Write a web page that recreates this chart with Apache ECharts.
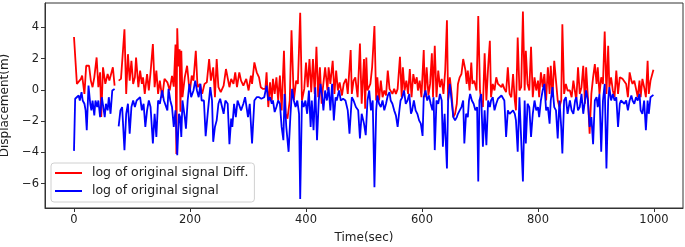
<!DOCTYPE html>
<html>
<head>
<meta charset="utf-8">
<script src="https://cdn.jsdelivr.net/npm/echarts@6/dist/echarts.min.js"></script>
<style>
  html, body { margin: 0; padding: 0; background: #fff; }
  #chart { width: 685px; height: 247px; }
</style>
</head>
<body>
<div id="chart"></div>
<script>
// tick values shown on the axes
const xTicks = [0, 200, 400, 600, 800, 1000]
const yTicks = [-6, -4, -2, 0, 2, 4]

const seriesNames = ['log of original signal Diff.', 'log of original signal']

// [time, value], '-' = missing samples
const diffData = [
  [0, 3.38], [5, 0.38], [8, 0.48], [12, 0.7], [14, 0.91], [18, -0.26], [21, 1.54], [23, 1.44],
  [26, 1.54], [29, 0.59], [32, 0.17], [35, 0.8], [39, 2.07], [42, 0.17], [45, 1.12], [47, -1.74],
  [50, 1.44], [54, 0.38], [58, 1.01], [61, 0.59], [63, 0.48], [67, 1.44], [70, 0.27], [73, '-'],
  [77, 0.59], [81, 0.7], [83, 0.8], [87, 3.87], [90, -0.26], [93, 2.28], [96, 0.59], [99, 1.86],
  [102, 0.38], [105, 0.8], [107, 2.07], [111, 0.17], [114, 1.23], [117, 0.38], [119, 0.8], [122, -0.26],
  [126, 1.01], [129, -0.04], [132, 1.12], [136, 2.92], [139, 0.17], [142, 1.23], [145, -0.26], [148, 0.59],
  [152, -0.5], [156, 0.7], [161, 0.48], [165, -0.04], [169, 0.9], [172, 0.2], [175, 2.9], [176.5, -4.1],
  [178, 3.93], [180, 1.5], [182, 2.6], [183.5, -1.4], [185, 2.5], [187, -0.47], [191, 0.8], [195, 1.54],
  [198, 0.38], [200, -0.04], [203, 0.91], [206, 0.59], [210, 2.5], [213, 0.17], [217, 0.38], [221, -0.26],
  [225, 0.38], [229, 0.48], [233, 1.97], [236, 0.59], [240, 1.44], [243, -0.47], [246, 1.97], [249, 0.17],
  [253, -0.15], [258, 0.27], [262, 1.33], [265, 1.23], [268, 0.17], [271, 0.7], [275, 0.38], [278, 1.12],
  [281, 0.17], [285, 1.12], [288, 0.59], [292, 0.27], [297, 0.7], [301, -0.04], [305, 0.91], [307, 0.38],
  [311, 1.75], [315, 1.12], [319, 0.8], [322, 0.17], [326, 0.06], [330, 0.06], [332, 1.12], [335, -1.1],
  [338, 0.48], [341, -0.68], [343, 0.7], [346, -0.26], [349, 0.8], [352, -0.68], [355, 0.91], [358, -1.31],
  [362, 2.5], [365, -1.53], [368, -1.84], [372, -0.68], [375, 3.81], [379, -0.68], [383, 0.59], [386, 0.38],
  [390, 4.93], [393, -0.68], [397, 0.06], [400, 1.75], [403, 0.17], [406, 1.97], [409, -0.15], [412, 1.97],
  [415, -0.26], [418, 2.75], [421, -0.47], [424, 1.44], [427, -0.89], [429, 0.06], [433, 1.44], [437, -0.04],
  [439, 1.44], [442, 0.38], [446, 1.86], [449, -0.26], [452, 1.23], [455, -0.04], [458, 0.48], [462, -0.36],
  [465, 0.38], [469, 0.7], [472, -0.26], [477, 2.54], [479, -0.26], [482, 0.59], [485, 0.8], [489, -0.47],
  [493, 2.96], [496, -0.89], [500, 1.97], [502, -1.2], [504, 2.07], [506, -0.04], [511, 0.38], [514, 1.44],
  [518, 4.08], [521, -0.68], [523, 0.8], [526, -0.68], [529, 0.59], [532, -0.47], [535, -0.04], [538, -0.36],
  [541, 1.23], [544, 0.06], [546, 0.17], [549, -0.26], [552, 0.06], [555, -0.26], [558, 0.06], [562, 2.11],
  [565, -0.47], [567, 1.44], [570, -0.04], [573, 0.59], [576, -0.26], [579, 1.33], [582, -0.47], [585, 1.01],
  [588, 0.38], [591, 0.8], [593, -0.04], [596, 0.59], [599, -0.47], [603, 2.54], [605, -0.47], [608, 1.44],
  [611, -0.36], [614, 0.38], [617, 2.33], [619, -0.47], [622, 2.81], [625, -0.47], [628, 1.23], [631, 0.17],
  [634, 0.7], [637, -0.26], [640, 1.23], [643, 4.44], [645, -0.68], [648, 0.8], [651, -0.26], [654, -1.74],
  [657, -1.53], [660, -0.89], [662, 0.38], [665, 0.8], [668, 1.01], [671, 1.97], [675, 1.23], [677, 0.38],
  [679, 1.23], [682, -0.04], [685, 1.75], [687, 0.38], [690, 0.59], [694, -0.04], [697, 4.72], [700, -0.04],
  [702, -0.68], [705, -1.1], [708, 2.33], [711, -0.68], [714, 1.44], [717, 3.13], [719, -0.47], [722, 0.38],
  [725, -0.04], [728, 0.8], [731, 0.38], [734, 0.27], [737, 0.17], [739, 0.38], [742, 0.06], [745, -0.15],
  [748, 1.44], [751, -0.26], [754, -0.47], [757, 1.01], [760, -0.68], [762, -1.31], [765, 3.34], [768, -0.04],
  [771, 0.17], [774, 5.0], [777, -0.04], [779, 2.5], [782, 0.38], [785, -0.04], [788, 2.75], [791, -0.47],
  [794, 0.8], [797, -0.04], [800, 0.59], [802, -0.47], [805, 1.12], [808, 0.17], [811, 1.01], [814, -0.68],
  [817, 1.44], [820, -0.26], [822, 1.54], [825, -0.47], [828, 1.86], [831, 0.59], [834, -0.68], [837, -1.1],
  [840, -0.68], [842, 4.19], [845, -0.26], [848, 0.38], [851, -0.04], [855, -0.04], [858, -0.47], [861, 0.59],
  [864, 0.7], [866, -0.68], [869, 1.44], [872, -0.26], [875, 0.17], [878, 1.54], [881, -0.89], [883, 1.44],
  [886, -0.47], [889, -2.8], [892, -0.26], [895, 0.8], [898, 1.65], [901, 0.38], [903, 1.44], [906, -0.26],
  [909, 0.8], [912, 0.38], [915, 3.72], [918, -0.26], [921, 2.81], [923, 0.17], [926, 0.8], [929, -0.04],
  [932, -0.47], [935, 1.23], [938, -0.26], [941, 0.8], [943, 0.7], [946, 0.7], [949, 0.59], [952, 0.38],
  [955, -0.47], [958, 1.12], [961, 0.59], [963, 0.38], [966, 0.59], [969, 0.06], [972, -0.47], [975, 0.59],
  [977, -0.47], [980, 0.7], [983, 0.17], [986, -0.47], [989, 1.86], [991, -0.26], [994, 0.59], [999, 1.29]
]

const signalData = [
  [0, -3.9], [2, -0.57], [5, -0.47], [8, -0.36], [10, -0.68], [13, -0.15], [15, -0.68], [18, -0.89],
  [20, -1.31], [22, -2.58], [25, 0.27], [28, -0.89], [30, -1.31], [32, -0.68], [35, -1.63], [37, -0.68],
  [40, -1.1], [42, -0.68], [45, -1.74], [48, -0.47], [50, -0.36], [53, -1.74], [55, -0.89], [58, -1.31],
  [60, -0.47], [63, -1.53], [66, -0.04], [70, 0.06], [73, '-'], [77, -2.33], [80, -1.31], [83, -1.1],
  [87, -3.85], [90, -1.53], [93, -0.89], [96, -2.8], [99, -1.1], [102, -0.68], [105, -1.1], [108, -0.68],
  [111, -0.68], [114, -0.47], [117, -1.31], [120, -0.89], [123, -2.37], [126, -1.31], [129, -0.68], [132, -1.1],
  [136, -3.43], [139, -1.53], [142, -3.01], [145, -0.68], [148, -0.89], [152, -0.04], [155, -0.68], [158, -0.68],
  [161, -1.31], [163, 0.06], [166, -0.68], [169, -1.1], [172, -2.37], [175, -1.31], [178, -4.17], [181, -1.53],
  [183, -1.74], [185, -3.01], [187, -0.68], [191, -1.74], [193, -2.48], [196, -0.68], [199, 0.38], [202, -0.47],
  [206, -0.04], [209, 0.59], [212, -0.04], [215, -0.47], [218, 0.38], [220, -0.68], [224, -0.68], [227, -2.96],
  [231, -1.31], [235, 0.17], [238, -0.68], [240, -3.32], [243, -2.37], [246, -1.95], [249, -0.89], [252, -0.57],
  [255, -0.68], [258, -1.53], [261, -0.68], [265, -0.89], [268, -3.47], [271, -1.84], [273, -2.37], [276, -0.89],
  [279, -1.74], [282, -0.68], [285, -0.68], [288, -1.31], [292, -0.89], [295, -0.47], [300, -1.74], [303, -0.89],
  [307, -3.43], [311, -0.68], [315, -0.47], [319, -0.47], [323, -0.57], [328, -0.47], [332, 0.27], [335, -0.68],
  [338, -0.47], [341, -0.89], [343, -0.68], [346, -1.42], [349, -1.1], [352, -0.68], [355, -0.89], [358, -2.37],
  [361, -3.22], [363, -0.26], [366, -2.37], [370, -3.96], [373, -1.74], [376, 0.06], [379, -0.68], [382, -1.1],
  [385, -0.68], [388, -1.53], [390, -6.97], [393, -0.68], [396, -1.1], [399, -0.68], [402, -1.53], [405, -0.04],
  [408, -2.37], [410, -0.68], [413, -2.58], [416, 0.17], [419, -3.22], [422, -0.68], [425, 0.38], [428, -0.47],
  [430, -1.31], [433, -0.04], [436, -0.68], [439, 0.17], [442, -1.31], [445, 0.38], [448, -1.95], [451, -0.47],
  [453, -0.68], [457, -0.04], [460, -0.68], [464, -0.57], [468, -0.68], [472, -1.31], [475, -2.8], [479, -0.47],
  [482, -0.68], [486, -1.1], [490, -1.31], [493, -3.11], [496, -1.53], [500, -2.16], [503, -2.9], [506, -0.68],
  [509, -0.04], [512, -1.31], [515, -0.68], [518, -6.22], [521, -1.31], [523, -0.36], [526, -0.89], [529, -1.1],
  [532, -0.68], [535, -1.31], [538, -0.89], [541, -0.36], [544, -0.15], [546, -0.68], [549, -0.89], [552, -1.31],
  [555, -1.63], [558, -2.37], [561, -1.31], [563, -0.68], [566, -0.47], [569, -0.04], [572, -0.89], [575, -0.68],
  [578, -0.26], [581, -1.53], [583, -1.31], [586, -0.68], [589, -1.31], [592, -1.53], [595, -1.95], [598, -2.16],
  [601, -2.94], [603, -0.47], [606, -0.04], [609, -0.68], [612, -0.36], [615, -0.89], [618, -1.31], [620, -0.47],
  [622, -3.85], [625, -0.68], [628, -0.89], [631, -0.26], [634, -0.68], [636, -3.64], [639, -1.53], [643, -5.02],
  [645, -0.68], [648, 0.38], [651, -0.68], [654, -1.74], [657, -1.95], [660, -1.74], [662, -1.53], [665, -1.31],
  [668, -1.1], [671, -0.68], [673, -3.43], [676, -1.53], [679, -1.74], [681, -0.68], [683, -0.26], [686, -0.68],
  [689, -0.89], [692, -1.31], [695, -1.1], [697, -5.86], [699, -0.68], [702, -0.26], [705, -3.64], [708, -1.31],
  [711, -3.54], [714, -0.68], [717, -1.1], [719, -0.68], [722, -0.47], [725, -1.31], [728, -0.89], [731, -0.57],
  [734, -0.47], [737, -0.36], [739, -0.36], [742, -0.68], [745, -3.01], [748, -1.31], [751, -1.53], [754, -1.63],
  [757, -1.31], [760, -1.53], [762, -1.95], [765, -3.96], [768, -0.47], [771, -0.47], [774, -5.86], [777, -0.68],
  [779, -3.43], [782, -0.89], [785, -1.1], [788, -3.01], [791, -1.53], [794, -0.68], [797, -1.31], [800, -1.1],
  [802, -1.74], [805, -0.68], [808, -0.04], [811, 0.38], [814, -1.31], [817, -1.1], [820, -2.16], [822, -0.68],
  [825, 0.17], [828, -1.1], [831, -1.31], [834, -3.11], [837, -0.68], [840, -2.37], [842, -4.07], [845, -0.68],
  [848, -0.47], [851, -1.53], [855, -0.68], [858, -1.31], [861, -1.53], [864, -0.68], [866, -0.47], [869, -1.31],
  [872, -1.1], [875, -0.26], [878, -1.53], [881, -0.68], [883, -0.04], [886, -0.68], [889, -2.37], [892, -1.74],
  [895, -3.47], [898, -0.68], [901, -0.47], [903, -1.1], [906, -0.26], [909, -3.96], [912, -0.68], [915, 0.38],
  [918, -5.02], [921, -0.68], [923, 0.17], [926, -0.68], [929, -0.26], [932, -0.68], [935, -0.47], [938, -2.37],
  [941, -0.89], [943, -0.68], [946, -0.57], [949, -0.89], [952, -0.68], [955, -1.31], [958, -0.68], [961, -0.36],
  [963, -0.68], [966, -0.89], [969, -0.47], [972, -0.68], [975, -0.26], [977, -1.31], [980, -1.53], [983, -0.68],
  [986, -2.58], [989, -0.68], [991, -1.53], [994, -0.47], [999, -0.32]
]

const chart = echarts.init(document.getElementById('chart'), null, { renderer: 'canvas' })

const fontFamily = 'DejaVu Sans'
const axisColor = '#333'
const minus = v => String(v).replace('-', '\u2212')

const option = {
  animation: false,
  textStyle: { fontFamily: fontFamily },
  grid: {
    left: 45,
    right: 2,
    top: 3,
    bottom: 39,
    show: true,
    borderColor: axisColor,
    borderWidth: 1,
    containLabel: false,
    outerBoundsMode: 'none'
  },
  legend: {
    orient: 'vertical',
    left: 51,
    top: 163,
    padding: [3, 6, 4, 4],
    itemGap: 4,
    itemWidth: 27,
    itemHeight: 2,
    icon: 'rect',
    borderColor: '#d0d0d0',
    borderWidth: 1,
    borderRadius: 3,
    backgroundColor: 'rgba(255,255,255,0.8)',
    textStyle: {
      fontSize: 12.5,
      color: '#222',
      fontFamily: fontFamily,
      padding: [0, 0, 0, 5],
      lineHeight: 14
    },
    data: seriesNames
  },
  xAxis: {
    type: 'value',
    min: -50,
    max: 1050,
    name: 'Time(sec)',
    nameLocation: 'middle',
    nameGap: 24,
    nameTextStyle: { fontSize: 12, color: '#222', fontFamily: fontFamily },
    axisLine: { show: true, onZero: false, lineStyle: { color: axisColor, width: 1 } },
    axisTick: { show: true, length: 4, inside: false, customValues: xTicks, lineStyle: { color: axisColor } },
    axisLabel: { customValues: xTicks, fontSize: 11.5, color: '#222', margin: 6, formatter: minus },
    splitLine: { show: false }
  },
  yAxis: {
    type: 'value',
    min: -7.55,
    max: 5.55,
    name: 'Displacement(m)',
    nameLocation: 'middle',
    nameGap: 29,
    nameTextStyle: { fontSize: 12, color: '#222', fontFamily: fontFamily },
    axisLine: { show: true, onZero: false, lineStyle: { color: axisColor, width: 1 } },
    axisTick: { show: true, length: 4, inside: false, customValues: yTicks, lineStyle: { color: axisColor } },
    axisLabel: { customValues: yTicks, fontSize: 11.5, color: '#222', margin: 6, formatter: minus },
    splitLine: { show: false }
  },
  series: [
    {
      name: seriesNames[0],
      type: 'line',
      data: diffData,
      showSymbol: false,
      symbol: 'none',
      connectNulls: false,
      color: '#ff0000',
      lineStyle: { color: '#ff0000', width: 1.8 },
      z: 2
    },
    {
      name: seriesNames[1],
      type: 'line',
      data: signalData,
      showSymbol: false,
      symbol: 'none',
      connectNulls: false,
      color: '#0000ff',
      lineStyle: { color: '#0000ff', width: 1.8 },
      z: 3
    }
  ]
}

chart.setOption(option)
</script>
</body>
</html>
